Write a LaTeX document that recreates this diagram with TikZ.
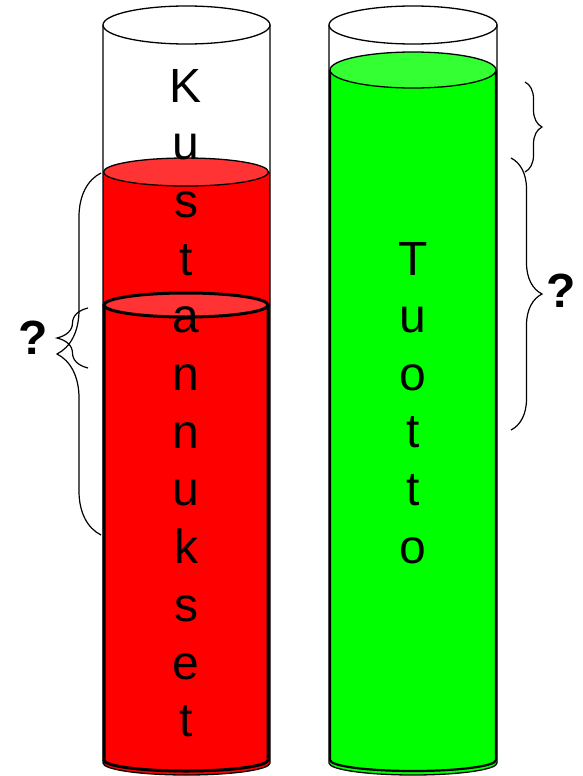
\documentclass[tikz,border=0pt]{standalone}
\usepackage{fontspec}
\setmainfont{Liberation Sans}
\usetikzlibrary{decorations.pathreplacing}
\definecolor{liqred}{HTML}{FF0000}
\definecolor{topred}{HTML}{FF3333}
\definecolor{liqgreen}{HTML}{00FF00}
\definecolor{topgreen}{HTML}{33FF33}
\tikzset{
  glass/.style={draw=black, line width=1.3pt},
  thickline/.style={draw=black, line width=3pt},
  letter/.style={anchor=base, inner sep=0pt, font=\fontsize{48}{57}\selectfont},
  qmark/.style={inner sep=0pt, font=\fontsize{48}{57}\selectfont\bfseries},
  bracel/.style={draw=black, line width=1.2pt, decorate, decoration={brace, amplitude=#1}},
}
\begin{document}
\begin{tikzpicture}[x=1pt, y=-1pt]
\useasboundingbox (0,0) rectangle (582,776);
\fill[white] (0,0) rectangle (582,776);

% ---------- left cylinder ----------
% red liquid
\fill[liqred] (103,172) -- (103,763) arc[start angle=180, end angle=360, x radius=83.5pt, y radius=12pt] -- (270,172) -- cycle;
% glass
\draw[glass] (103,25) -- (103,763) arc[start angle=180, end angle=360, x radius=83.5pt, y radius=12pt] -- (270,25);
\draw[glass, fill=white] (186.5,25) ellipse[x radius=83.5pt, y radius=19pt];
% red surface
\draw[glass, fill=topred] (186,172) ellipse[x radius=82.5pt, y radius=14pt];
% inner cylinder
\draw[thickline, fill=liqred] (104,305) -- (104,760) arc[start angle=180, end angle=360, x radius=82pt, y radius=11pt] -- (268,305);
\draw[thickline, fill=topred] (186,305) ellipse[x radius=82pt, y radius=12pt];

% ---------- right cylinder ----------
\fill[liqgreen] (329,70) -- (329,763) arc[start angle=180, end angle=360, x radius=84pt, y radius=12pt] -- (497,70) -- cycle;
\draw[glass] (329,25) -- (329,763) arc[start angle=180, end angle=360, x radius=84pt, y radius=12pt] -- (497,25);
\draw[line width=2.2pt] (330,70) -- (330,760) arc[start angle=180, end angle=360, x radius=83pt, y radius=11pt] -- (496,70);
\draw[glass, fill=white] (413,25) ellipse[x radius=84pt, y radius=19pt];
\draw[glass, fill=topgreen] (413,70) ellipse[x radius=83pt, y radius=18pt];

% ---------- texts ----------
\foreach \ch [count=\i from 0] in {K,u,s,t,a,n,n,u,k,s,e,t}
  \node[letter] (k\i) at (186, 102+57.7*\i) {\ch};
\foreach \ch [count=\i from 0] in {T,u,o,t,t,o}
  \node[letter] (t\i) at (413, 275+57.6*\i) {\ch};

% ---------- braces ----------
\coordinate (lbA) at (101,535);
\coordinate (lbB) at (101,173);
\coordinate (lsA) at (88,368);
\coordinate (lsB) at (88,308);
\draw[bracel=44pt] (lbA) -- (lbB);
\draw[bracel=31pt] (lsA) -- (lsB);
\node[qmark] (q1) at (33,338) {?};

\coordinate (rsA) at (525,82);
\coordinate (rsB) at (525,172);
\coordinate (rbA) at (511,158);
\coordinate (rbB) at (511,430);
\draw[bracel=17pt] (rsA) -- (rsB);
\draw[bracel=31pt] (rbA) -- (rbB);
\node[qmark] (q2) at (561,291) {?};
\end{tikzpicture}
\end{document}
